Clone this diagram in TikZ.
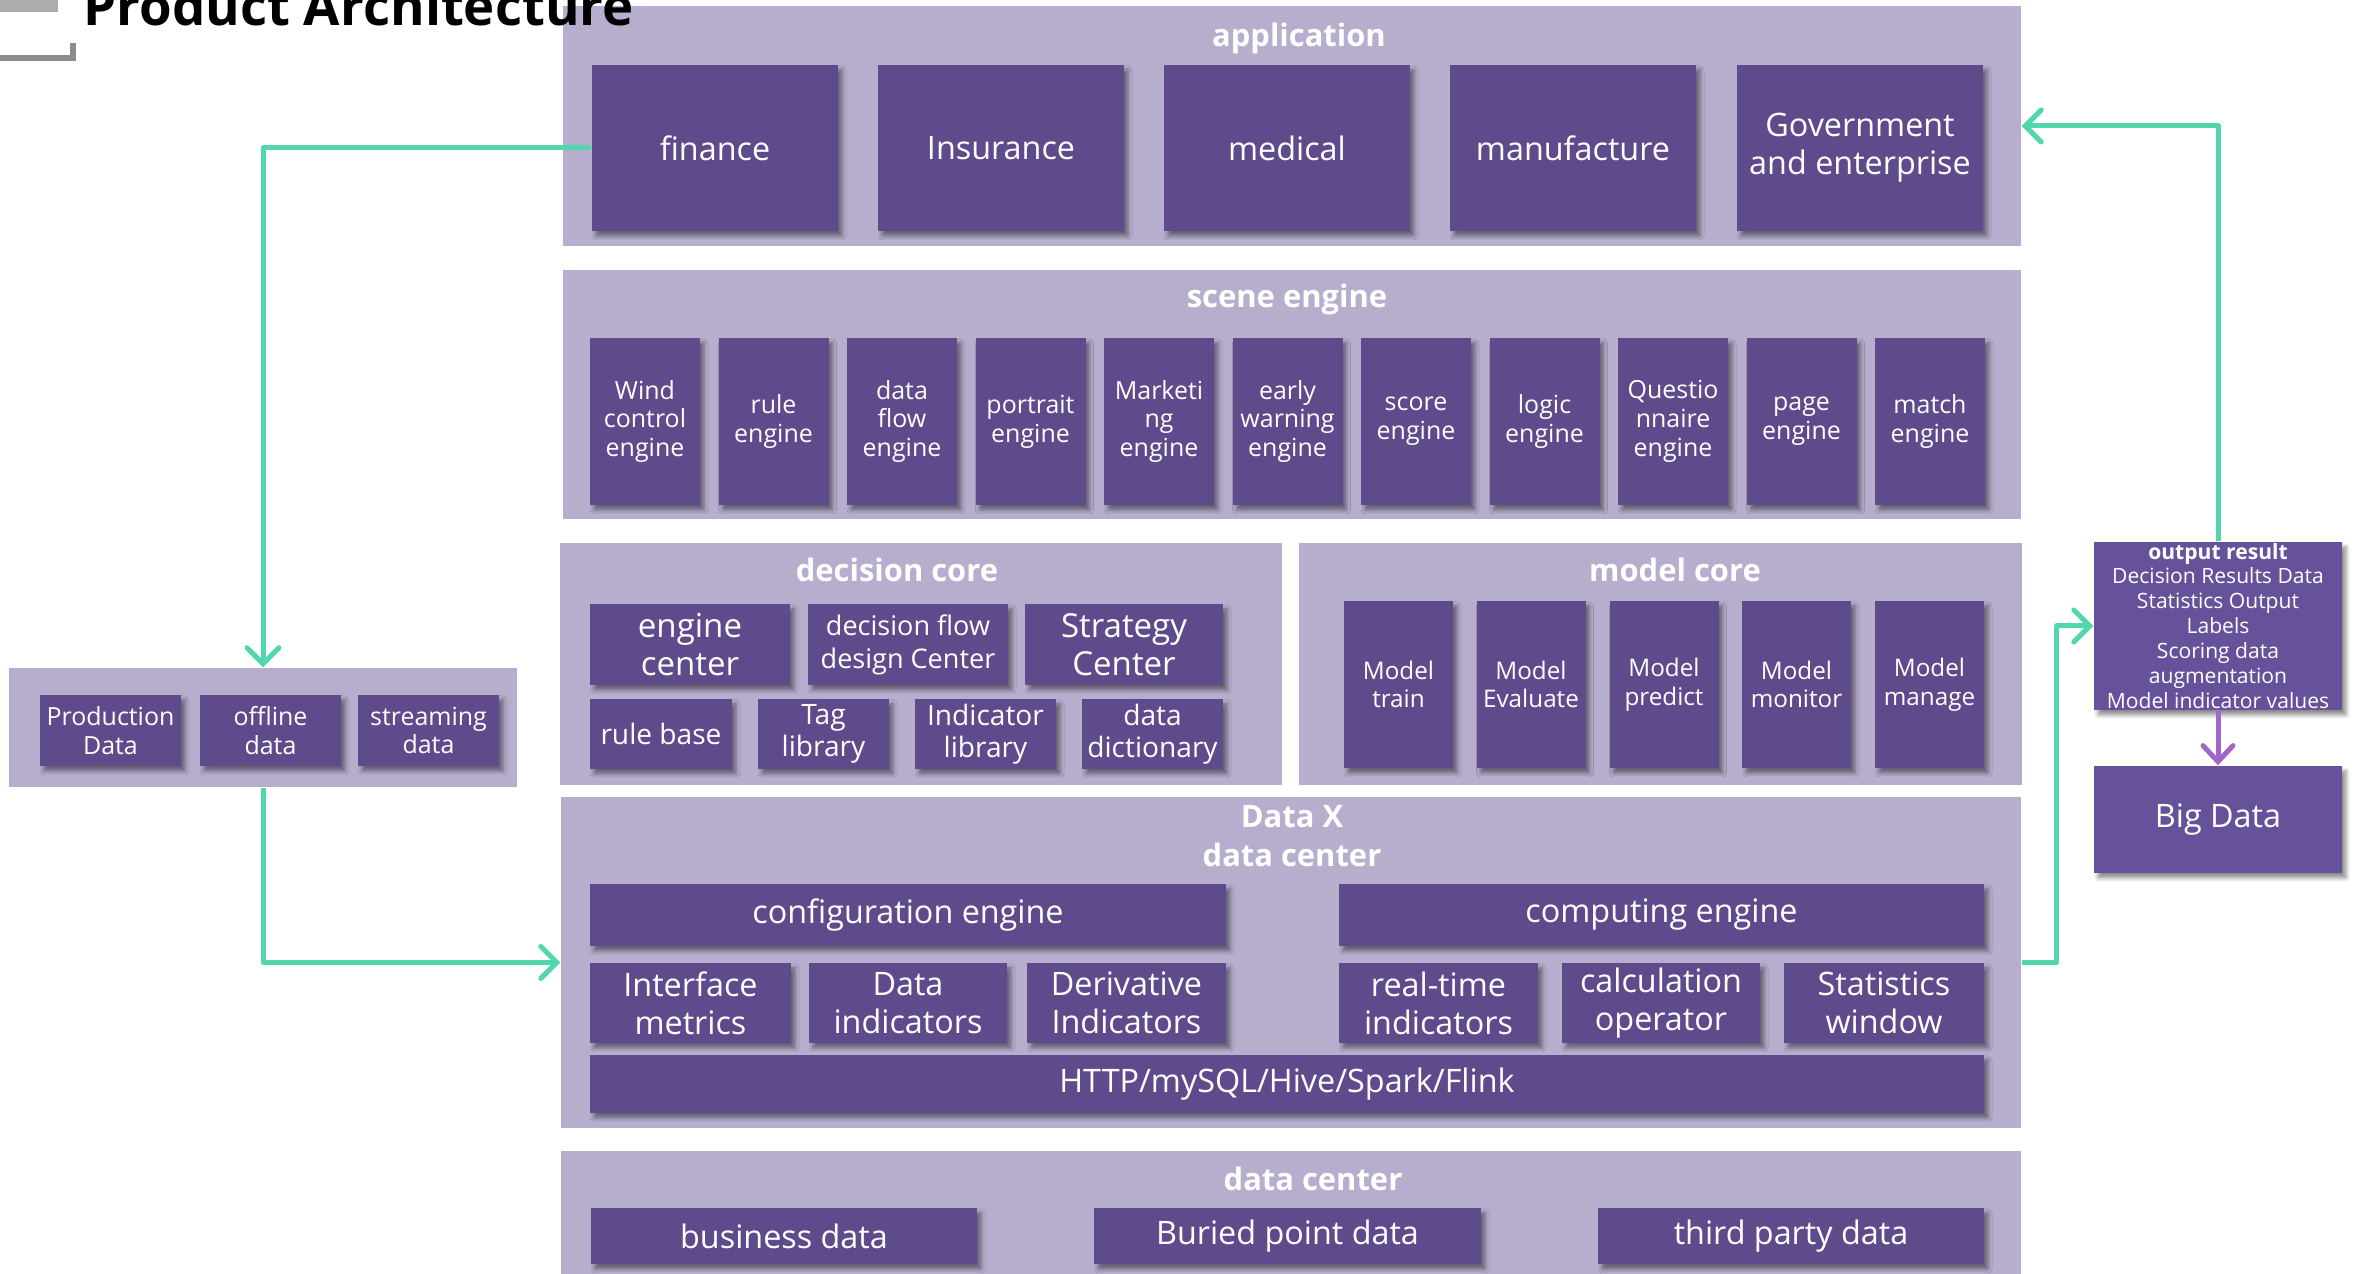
\documentclass[tikz,border=0pt]{standalone}
\usepackage{fontspec}
\setmainfont{Open Sans}
\usepackage{xcolor}
\usetikzlibrary{arrows.meta, shadows.blur}

\definecolor{panelc}{HTML}{B7AECE}
\definecolor{boxc}{HTML}{5F4B8B}
\definecolor{outc}{HTML}{66529A}
\definecolor{flowc}{HTML}{52D6AE}
\definecolor{pflowc}{HTML}{A066C8}

\begin{document}
\begin{tikzpicture}[
    panel/.style={fill=panelc, inner sep=0pt},
    box/.style={fill=boxc, text=white, align=center, inner sep=0pt,
        blur shadow={shadow xshift=0.04cm, shadow yshift=-0.05cm, shadow blur radius=0.04cm, shadow opacity=45}},
    ttl/.style={text=white, align=center, font=\bfseries\fontsize{8.8}{11.2}\selectfont},
    appbox/.style={box, minimum width=2.46cm, minimum height=1.66cm, font=\fontsize{9.2}{10.8}\selectfont},
    scenebox/.style={box, minimum width=1.10cm, minimum height=1.67cm, font=\fontsize{7.1}{8.2}\selectfont},
    modelbox/.style={box, minimum width=1.09cm, minimum height=1.67cm, font=\fontsize{6.9}{8.2}\selectfont},
    databox/.style={box, minimum height=0.80cm, font=\fontsize{9.2}{10.8}\selectfont},
    srcbox/.style={box, minimum width=1.41cm, minimum height=0.71cm, font=\fontsize{7.1}{8.2}\selectfont},
    flow/.style={draw=flowc, line width=0.05cm, line join=round,
        -{Straight Barb[length=0.16cm, width=0.32cm, line cap=round]}},
    pflow/.style={draw=pflowc, line width=0.05cm,
        -{Straight Barb[length=0.16cm, width=0.3cm, line cap=round]}}
]
    \useasboundingbox (0,0) rectangle (23.66,12.74);

    % Panels
    \node[panel, minimum width=14.58cm, minimum height=2.40cm] (app) at (12.92,11.48) {};
    \node[panel, minimum width=14.58cm, minimum height=2.49cm] (scene) at (12.92,8.795) {};
    \node[panel, minimum width=7.22cm, minimum height=2.42cm] (decision) at (9.21,6.10) {};
    \node[panel, minimum width=7.23cm, minimum height=2.42cm] (model) at (16.605,6.10) {};
    \node[panel, minimum width=14.60cm, minimum height=3.31cm] (dataX) at (12.91,3.115) {};
    \node[panel, minimum width=14.60cm, minimum height=1.23cm] (dc) at (12.91,0.615) {};
    \node[panel, minimum width=5.08cm, minimum height=1.19cm] (src) at (2.63,5.465) {};

    % Title
    \fill[gray!65] (0,12.62) rectangle (0.58,12.80);
    \draw[gray!90, line width=0.06cm] (0,12.16) -- (0.73,12.16) -- (0.73,12.31);
    \node[anchor=base west, inner sep=0pt, font=\bfseries\fontsize{15}{18}\selectfont] (title) at (0.83,12.48) {Product Architecture};

    % Panel titles
    \node[ttl] (appT) at (12.99,12.36) {application};
    \node[ttl] (sceneT) at (12.87,9.75) {scene engine};
    \node[ttl] (decisionT) at (8.97,7.04) {decision core};
    \node[ttl] (modelT) at (16.75,7.04) {model core};
    \node[ttl] (dataXT) at (12.92,4.38) {Data X\\data center};
    \node[ttl] (dcT) at (13.13,0.95) {data center};

    % Application
    \node[appbox] (finance) at (7.15,11.26) {finance};
    \node[appbox] (insurance) at (10.01,11.26) {Insurance};
    \node[appbox] (medical) at (12.87,11.26) {medical};
    \node[appbox] (manufacture) at (15.73,11.26) {manufacture};
    \node[appbox] (gov) at (18.60,11.26) {Government\\and enterprise};

    % Scene engines
    \node[scenebox] (wind) at (6.45,8.525) {Wind\\control\\engine};
    \node[scenebox] (rule) at (7.735,8.525) {rule\\engine};
    \node[scenebox] (dflow) at (9.02,8.525) {data\\flow\\engine};
    \node[scenebox] (portrait) at (10.305,8.525) {portrait\\engine};
    \node[scenebox] (marketing) at (11.59,8.525) {Marketi\\ng\\engine};
    \node[scenebox] (warning) at (12.875,8.525) {early\\warning\\engine};
    \node[scenebox] (score) at (14.16,8.525) {score\\engine};
    \node[scenebox] (logic) at (15.445,8.525) {logic\\engine};
    \node[scenebox] (quest) at (16.73,8.525) {Questio\\nnaire\\engine};
    \node[scenebox] (page) at (18.015,8.525) {page\\engine};
    \node[scenebox] (match) at (19.30,8.525) {match\\engine};

    % Decision core
    \node[box, minimum width=2.00cm, minimum height=0.81cm, font=\fontsize{9.4}{10.8}\selectfont] (engc) at (6.90,6.295) {engine\\center};
    \node[box, minimum width=2.00cm, minimum height=0.81cm, font=\fontsize{7.7}{9.4}\selectfont] (dfd) at (9.08,6.295) {decision flow\\design Center};
    \node[box, minimum width=1.98cm, minimum height=0.81cm, font=\fontsize{9.4}{10.8}\selectfont] (strat) at (11.24,6.295) {Strategy\\Center};
    \node[box, minimum width=1.42cm, minimum height=0.70cm, font=\fontsize{8}{9}\selectfont] (rbase) at (6.61,5.40) {rule base};
    \node[box, minimum width=1.31cm, minimum height=0.70cm, font=\fontsize{8}{9}\selectfont] (tag) at (8.235,5.40) {Tag\\library};
    \node[box, minimum width=1.41cm, minimum height=0.70cm, font=\fontsize{8}{9}\selectfont] (ind) at (9.855,5.40) {Indicator\\library};
    \node[box, minimum width=1.41cm, minimum height=0.70cm, font=\fontsize{8}{9}\selectfont] (dict) at (11.525,5.40) {data\\dictionary};

    % Model core
    \node[modelbox] (mtrain) at (13.985,5.895) {Model\\train};
    \node[modelbox] (meval) at (15.31,5.895) {Model\\Evaluate};
    \node[modelbox] (mpred) at (16.64,5.895) {Model\\predict};
    \node[modelbox] (mmon) at (17.965,5.895) {Model\\monitor};
    \node[modelbox] (mman) at (19.295,5.895) {Model\\manage};

    % Data X
    \node[databox, minimum width=6.36cm, minimum height=0.62cm] (config) at (9.08,3.59) {configuration engine};
    \node[databox, minimum width=6.45cm, minimum height=0.62cm] (compute) at (16.615,3.59) {computing engine};
    \node[databox, minimum width=2.01cm] (iface) at (6.905,2.71) {Interface\\metrics};
    \node[databox, minimum width=1.98cm] (dind) at (9.08,2.71) {Data\\indicators};
    \node[databox, minimum width=1.99cm] (deriv) at (11.265,2.71) {Derivative\\Indicators};
    \node[databox, minimum width=1.99cm] (rtime) at (14.385,2.71) {real-time\\indicators};
    \node[databox, minimum width=1.98cm] (calc) at (16.61,2.71) {calculation\\operator};
    \node[databox, minimum width=2.00cm] (stats) at (18.84,2.71) {Statistics\\window};
    \node[databox, minimum width=13.94cm, minimum height=0.58cm] (http) at (12.87,1.90) {HTTP/mySQL/Hive/Spark/Flink};

    % Data center
    \node[databox, minimum width=3.86cm, minimum height=0.56cm] (business) at (7.84,0.38) {business data};
    \node[databox, minimum width=3.87cm, minimum height=0.56cm] (buried) at (12.875,0.38) {Buried point data};
    \node[databox, minimum width=3.86cm, minimum height=0.56cm] (third) at (17.91,0.38) {third party data};

    % Data sources
    \node[srcbox] (prod) at (1.105,5.435) {Production\\Data};
    \node[srcbox] (offline) at (2.705,5.435) {offline\\data};
    \node[srcbox] (stream) at (4.285,5.435) {streaming\\data};

    % Output
    \node[box, fill=outc, minimum width=2.48cm, minimum height=1.68cm, font=\fontsize{6.0}{7.1}\selectfont] (out) at (22.18,6.48)
        {\textbf{output result}\\Decision Results Data\\Statistics Output\\Labels\\Scoring data\\augmentation\\Model indicator values};
    \node[box, fill=outc, minimum width=2.48cm, minimum height=1.07cm, font=\fontsize{9.2}{10.8}\selectfont] (big) at (22.18,4.545) {Big Data};

    % Arrows
    \draw[flow] (finance.west) -| (src.north);
    \draw[flow] (src.south) |- (dataX.west);
    \draw[flow] (dataX.east) -- ++(0.35,0) |- (out.west);
    \draw[flow] (out.north) |- (app.east);
    \draw[pflow] (out.south) -- (big.north);
\end{tikzpicture}
\end{document}
